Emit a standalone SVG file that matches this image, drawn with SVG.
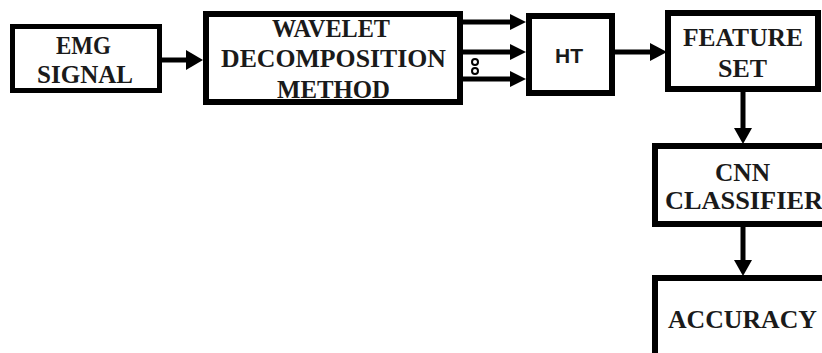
<svg xmlns="http://www.w3.org/2000/svg" width="822" height="353" viewBox="0 0 822 353">
<style>
.box{fill:#fff;stroke:#000;stroke-width:6}
.t{font-family:"Liberation Serif","Times New Roman",serif;font-weight:bold;font-size:25px;fill:#1a1a1a}
.s{font-family:"Liberation Sans",Arial,sans-serif;font-weight:bold;font-size:21px;fill:#1a1a1a}
.ln{stroke:#000;stroke-width:5;fill:none}
.hd{fill:#000}
</style>
<rect width="822" height="353" fill="#fff"/>
<g id="connectors">
<line class="ln" x1="162" y1="60" x2="188" y2="60"/>
<polygon class="hd" points="186,50 203,60 186,70"/>
<line class="ln" x1="463" y1="22" x2="512" y2="22"/>
<polygon class="hd" points="510,14 526,22 510,30"/>
<line class="ln" x1="463" y1="52" x2="512" y2="52"/>
<polygon class="hd" points="510,44 526,52 510,60"/>
<line class="ln" x1="463" y1="79" x2="512" y2="79"/>
<polygon class="hd" points="510,71 526,79 510,87"/>
<circle cx="475" cy="62" r="3" fill="none" stroke="#000" stroke-width="2"/>
<circle cx="475" cy="71" r="3" fill="none" stroke="#000" stroke-width="2"/>
<line class="ln" x1="615" y1="52" x2="652" y2="52"/>
<polygon class="hd" points="650,43 667,52 650,61"/>
<line class="ln" x1="743" y1="92" x2="743" y2="130"/>
<polygon class="hd" points="734,128 743,144 752,128"/>
<line class="ln" x1="743" y1="227" x2="743" y2="262"/>
<polygon class="hd" points="734,260 743,276 752,260"/>
</g>
<g id="emg">
<rect class="box" x="12.5" y="26.5" width="147" height="64" style="stroke-width:5"/>
<text class="t" x="56" y="54" textLength="55" lengthAdjust="spacingAndGlyphs">EMG</text>
<text class="t" x="37" y="83" textLength="96" lengthAdjust="spacingAndGlyphs">SIGNAL</text>
</g>
<g id="wavelet">
<rect class="box" x="206" y="14" width="254" height="88"/>
<text class="t" x="272" y="37" textLength="118" lengthAdjust="spacingAndGlyphs">WAVELET</text>
<text class="t" x="221" y="67" textLength="225" lengthAdjust="spacingAndGlyphs">DECOMPOSITION</text>
<text class="t" x="277" y="98" textLength="113" lengthAdjust="spacingAndGlyphs">METHOD</text>
</g>
<g id="ht">
<rect class="box" x="529" y="16" width="83" height="77"/>
<text class="s" x="569" y="63" text-anchor="middle">HT</text>
</g>
<g id="feature">
<rect class="box" x="668" y="13" width="150" height="76"/>
<text class="t" x="683" y="46" textLength="120" lengthAdjust="spacingAndGlyphs">FEATURE</text>
<text class="t" x="718" y="77" textLength="49" lengthAdjust="spacingAndGlyphs">SET</text>
</g>
<g id="cnn">
<rect class="box" x="655" y="146" width="200" height="78"/>
<text class="t" x="715" y="181" textLength="55" lengthAdjust="spacingAndGlyphs">CNN</text>
<text class="t" x="665" y="209" textLength="158" lengthAdjust="spacingAndGlyphs">CLASSIFIER</text>
</g>
<g id="accuracy">
<rect class="box" x="655" y="278" width="200" height="100"/>
<text class="t" x="668" y="328" textLength="149" lengthAdjust="spacingAndGlyphs">ACCURACY</text>
</g>
</svg>
